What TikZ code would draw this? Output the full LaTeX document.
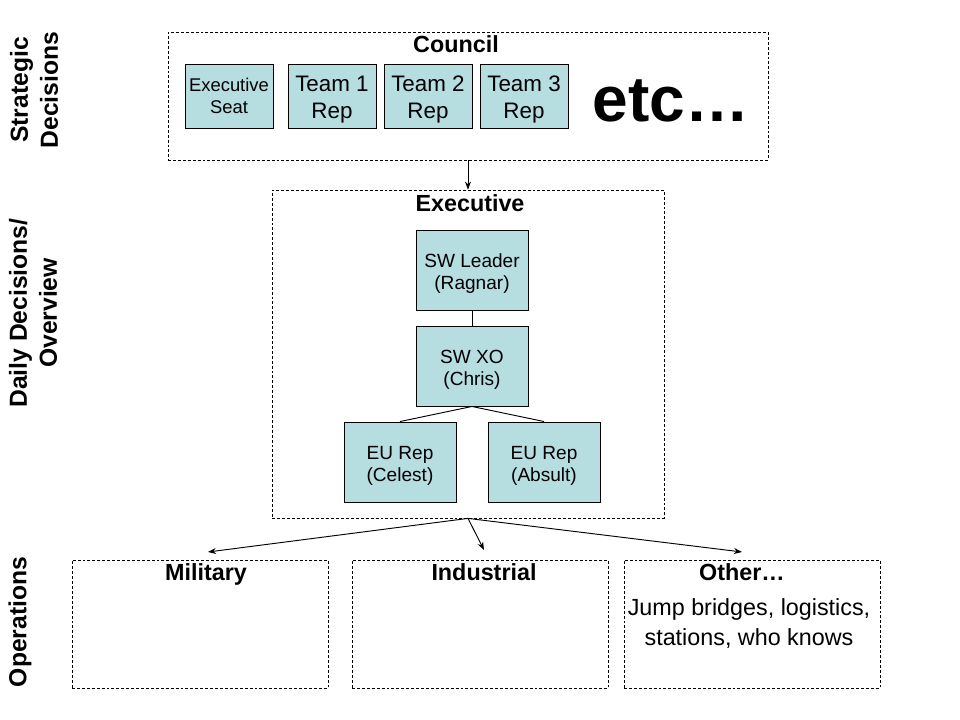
\documentclass[tikz,border=0pt]{standalone}
\usepackage{fontspec}
\setmainfont{Liberation Sans}
\usetikzlibrary{arrows.meta}
\definecolor{boxfill}{RGB}{182,221,224}
\begin{document}
\begin{tikzpicture}[x=0.75pt,y=-0.75pt,
  group/.style={draw,dash pattern=on 2.2pt off 1.5pt,line width=0.6pt,inner sep=0pt},
  member/.style={draw,fill=boxfill,line width=0.7pt,inner sep=0pt,align=center,font=\fontsize{14.3pt}{16.5pt}\selectfont},
  title/.style={font=\bfseries\fontsize{17.5pt}{20pt}\selectfont,inner sep=0pt,anchor=base},
  side/.style={font=\bfseries\fontsize{18.5pt}{22.5pt}\selectfont,rotate=90,align=center,inner sep=0pt},
  link/.style={line width=0.7pt},
  arr/.style={line width=0.7pt,-{Stealth[length=6pt,width=4.5pt]}}]
\useasboundingbox (0,0) rectangle (960,720);
% groups
\node[group,minimum width=450pt,minimum height=96pt] (council) at (468,96) {};
\node[group,minimum width=294pt,minimum height=246pt] (exec) at (468,354) {};
\node[group,minimum width=192pt,minimum height=96pt] (mil) at (200,624) {};
\node[group,minimum width=192pt,minimum height=96pt] (ind) at (480,624) {};
\node[group,minimum width=192pt,minimum height=96pt] (oth) at (752,624) {};
% titles
\node[title] (tcouncil) at (456,53) {Council};
\node[title] (texec) at (470,212) {Executive};
\node[title] (tmil) at (206,580) {Military};
\node[title] (tind) at (484,580) {Industrial};
\node[title] (toth) at (742,580) {Other…};
\node[align=center,inner sep=0pt,font=\fontsize{17.5pt}{22.5pt}\selectfont] (othtext) at (749,624) {Jump bridges, logistics,\\stations, who knows};
% council members
\node[member,minimum width=66pt,minimum height=48pt,font=\fontsize{13.8pt}{16.5pt}\selectfont] (seat) at (229,96) {Executive\\Seat};
\node[member,minimum width=66pt,minimum height=48pt,font=\fontsize{16.8pt}{20.5pt}\selectfont] (t1) at (332,96) {\rule{0pt}{17pt}Team 1\\Rep};
\node[member,minimum width=66pt,minimum height=48pt,font=\fontsize{16.8pt}{20.5pt}\selectfont] (t2) at (428,96) {\rule{0pt}{17pt}Team 2\\Rep};
\node[member,minimum width=66pt,minimum height=48pt,font=\fontsize{16.8pt}{20.5pt}\selectfont] (t3) at (524,96) {\rule{0pt}{17pt}Team 3\\Rep};
\node[inner sep=0pt,anchor=base,font=\bfseries\fontsize{48pt}{48pt}\selectfont] (etc) at (671,122) {etc…};
% executive members
\node[member,minimum width=84pt,minimum height=60pt] (lead) at (472,270) {\rule{0pt}{15pt}SW Leader\\(Ragnar)};
\node[member,minimum width=84pt,minimum height=60pt] (xo) at (472,366) {\rule{0pt}{15pt}SW XO\\(Chris)};
\node[member,minimum width=84pt,minimum height=60pt] (eu1) at (400,462) {\rule{0pt}{15.5pt}EU Rep\\(Celest)};
\node[member,minimum width=84pt,minimum height=60pt] (eu2) at (544,462) {\rule{0pt}{15.5pt}EU Rep\\(Absult)};
% side labels
\node[side] (s1) at (34,90) {Strategic\\Decisions};
\node[side] (s2) at (33,313) {Daily Decisions/\\Overview};
\node[side] (s3) at (20,622) {Operations};
% connectors
\draw[arr] (council.south) -- (exec.north);
\draw[link] (lead) -- (xo);
\draw[link] (xo.south) -- (eu1.north);
\draw[link] (xo.south) -- (eu2.north);
\coordinate (am) at (208,552);
\coordinate (ai) at (484,550);
\coordinate (ao) at (742,552);
\draw[arr] (exec.south) -- (am);
\draw[arr] (exec.south) -- (ai);
\draw[arr] (exec.south) -- (ao);
\end{tikzpicture}
\end{document}
